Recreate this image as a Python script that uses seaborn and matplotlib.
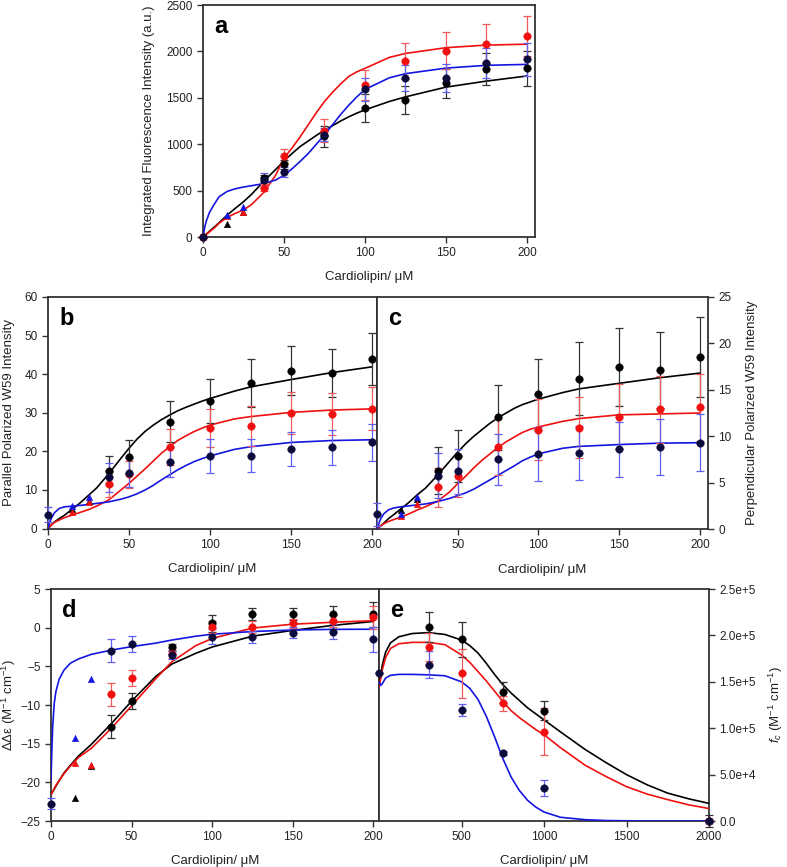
import numpy as np
import pandas as pd
import matplotlib
matplotlib.use("Agg")
import matplotlib.pyplot as plt
import seaborn as sns

# ---------------- data ----------------
# points: 0 + concentrations in uM, triangles at 15 and 25 uM
x_pts = [0, 37.5, 50, 75, 100, 125, 150, 175, 200]
x_pts8 = [37.5, 50, 75, 100, 125, 150, 175, 200]
x_tri = [15, 25]

# fitted curves are drawn through values
x_fit = [0, 1, 2, 4, 7, 10, 15, 20, 25, 30, 37.5, 45, 50, 55, 60, 65, 70, 75,
         80, 85, 90, 95, 100, 115, 125, 150, 175, 200]

# ---- panel a: integrated fluorescence ----
a_black = [0, 633, 784, 1086, 1392, 1475, 1655, 1809, 1817]
a_black_err = [0, 40, 50, 112, 148, 152, 160, 170, 185]
a_red = [0, 532, 874, 1144, 1637, 1896, 2007, 2083, 2165]
a_red_err = [0, 40, 70, 125, 160, 190, 200, 208, 215]
a_blue = [0, 610, 698, 1100, 1590, 1716, 1716, 1874, 1914]
a_blue_err = [0, 80, 55, 70, 120, 140, 150, 165, 175]
a_tri_black = [140, 270]
a_tri_red = [225, 273]
a_tri_blue = [237, 320]
a_fit_black = [0, 15, 30, 62, 108, 155, 237, 310, 380, 460, 600, 730, 820, 900,
               975, 1035, 1095, 1150, 1200, 1250, 1295, 1335, 1370, 1460, 1510,
               1615, 1680, 1735]
a_fit_red = [0, 14, 28, 56, 98, 150, 212, 255, 292, 350, 480, 670, 850, 960,
             1080, 1210, 1340, 1460, 1560, 1650, 1730, 1780, 1817, 1935, 1978,
             2040, 2068, 2078]
a_fit_blue = [0, 100, 170, 265, 355, 435, 492, 520, 538, 553, 575, 615, 665, 735,
              815, 900, 1000, 1100, 1210, 1320, 1420, 1510, 1590, 1715, 1760,
              1820, 1850, 1860]

# ---- panel b: parallel polarized ----
b_black = [15.0, 18.6, 27.7, 33.1, 37.7, 40.9, 40.4, 43.9]
b_black_err = [3.8, 4.4, 5.3, 5.7, 6.2, 6.4, 6.2, 6.7]
b_red = [11.5, 14.0, 21.2, 26.1, 26.6, 29.9, 29.7, 31.0]
b_red_err = [3.3, 3.5, 4.7, 4.9, 5.1, 5.5, 5.4, 5.6]
b_blue = [3.6, 13.3, 14.5, 17.3, 18.9, 18.9, 20.5, 21.0, 22.3]
b_blue_err = [2.0, 3.8, 3.8, 3.9, 4.4, 4.3, 4.4, 4.5, 4.7]
b_tri_black = [5.0, 7.0]
b_tri_red = [4.4, 6.9]
b_tri_blue = [5.9, 8.05]
b_fit_black = [0, 0.4, 0.9, 1.7, 2.6, 3.4, 5.0, 6.7, 8.6, 10.5, 14.2, 18.2, 20.8,
               23.2, 25.2, 26.8, 28.2, 29.4, 30.5, 31.4, 32.2, 33.0, 33.7, 35.6,
               36.7, 38.6, 40.4, 41.9]
b_fit_red = [0, 0.5, 0.9, 1.6, 2.2, 2.8, 3.5, 4.2, 4.9, 5.8, 7.4, 10.0, 11.7,
             13.6, 15.5, 17.5, 19.5, 21.2, 22.8, 24.0, 25.1, 26.0, 26.8, 28.4,
             29.0, 30.1, 30.7, 31.0]
b_fit_blue = [0, 1.5, 2.6, 4.1, 5.2, 5.6, 5.8, 6.0, 6.2, 6.5, 6.9, 7.6, 8.2,
              9.0, 10.0, 11.2, 12.6, 13.9, 15.2, 16.3, 17.3, 18.1, 18.8, 20.5,
              21.2, 22.3, 22.8, 23.0]

# ---- panel c: perpendicular polarized ----
c_black = [6.3, 7.9, 12.05, 14.5, 16.2, 17.5, 17.1, 18.5]
c_black_err = [2.5, 2.8, 3.5, 3.8, 3.9, 4.2, 4.1, 4.3]
c_red = [4.5, 5.7, 8.8, 10.7, 10.9, 12.1, 12.9, 13.1]
c_red_err = [2.1, 2.2, 3.0, 3.3, 3.3, 3.5, 3.6, 3.6]
c_blue = [1.6, 5.75, 6.2, 7.5, 8.05, 8.15, 8.6, 8.8, 9.3]
c_blue_err = [1.25, 2.4, 2.4, 2.75, 2.9, 2.9, 2.95, 3.0, 3.1]
c_tri_black = [2.05, 3.2]
c_tri_red = [1.4, 2.65]
c_tri_blue = [1.6, 3.4]
c_fit_black = [0, 0.15, 0.3, 0.6, 1.1, 1.5, 2.2, 2.9, 3.7, 4.4, 5.8, 7.3, 8.3,
               9.2, 10.0, 10.7, 11.4, 12.0, 12.5, 13.0, 13.4, 13.7, 14.0, 14.7,
               15.1, 15.7, 16.3, 16.8]
c_fit_red = [0, 0.15, 0.3, 0.55, 0.8, 1.0, 1.3, 1.65, 2.05, 2.4, 3.0, 4.0, 4.9,
             5.7, 6.6, 7.4, 8.1, 8.8, 9.4, 9.9, 10.4, 10.75, 11.0, 11.6, 11.9,
             12.3, 12.4, 12.5]
c_fit_blue = [0, 0.5, 1.0, 1.6, 2.05, 2.25, 2.4, 2.5, 2.6, 2.7, 2.95, 3.3, 3.6,
              3.9, 4.3, 4.8, 5.3, 5.8, 6.3, 6.8, 7.35, 7.75, 8.1, 8.7, 8.9, 9.1,
              9.25, 9.3]

# ---- panel d: delta delta epsilon ----
d_black = [-12.8, -9.5, -2.55, 0.55, 1.75, 1.75, 1.75, 1.75]
d_black_err = [1.5, 1.0, 0.5, 1.05, 0.75, 0.75, 1.05, 1.6]
d_red = [-8.6, -6.5, -3.45, 0.1, 0.1, 0.55, 0.85, 1.35]
d_red_err = [1.5, 1.0, 0.5, 0.8, 0.8, 0.6, 0.8, 1.5]
d_blue = [-22.75, -3.0, -2.1, -3.5, -1.15, -1.2, -0.65, -0.5, -1.5]
d_blue_err = [0.75, 1.5, 1.0, 0.5, 1.0, 0.75, 0.75, 1.0, 1.6]
d_tri_black = [-22.0, -17.9]
d_tri_red = [-17.45, -17.8]
d_tri_blue = [-14.3, -6.7]
x_fit_d = [0, 0.5, 1, 2, 3, 5, 8, 12, 17, 25, 37.5, 50, 65, 75, 90, 100, 125,
           150, 175, 200]
d_fit_black = [-21.6, -21.4, -21.25, -20.9, -20.5, -19.8, -18.8, -17.8, -16.6,
               -15.1, -12.4, -9.5, -6.3, -4.7, -3.3, -2.5, -1.1, -0.35, 0.3, 0.8]
d_fit_red = [-21.6, -21.4, -21.2, -20.8, -20.4, -19.8, -18.9, -17.9, -16.8,
             -15.6, -13.0, -10.1, -6.6, -4.4, -2.3, -1.4, -0.05, 0.45, 0.7, 0.9]
d_fit_blue = [-19.7, -16.0, -13.0, -9.8, -8.3, -6.7, -5.5, -4.6, -4.05, -3.45,
              -2.9, -2.45, -2.0, -1.6, -1.1, -0.85, -0.5, -0.3, -0.22, -0.2]

# ---- panel e: f_c ----
x_e = [300, 500, 750, 1000, 2000]
e_black = [2.09e5, 1.957e5, 1.386e5, 1.19e5, 0]
e_black_err = [1.65e4, 1.9e4, 1.1e4, 1.0e4, 6e3]
e_red = [1.877e5, 1.59e5, 1.27e5, 0.964e5, 0]
e_red_err = [1.5e4, 2.65e4, 0.8e4, 2.5e4, 0]
x_e_blue = [0, 300, 500, 750, 1000, 2000]
e_blue = [1.59e5, 1.686e5, 1.20e5, 0.736e5, 0.357e5, 0]
e_blue_err = [0, 1.5e4, 0.65e4, 0.2e4, 0.9e4, 0.2e4]
x_fit_e = [0, 10, 20, 40, 70, 120, 200, 300, 400, 500, 550, 600, 650, 700, 750,
           800, 850, 900, 950, 1000, 1100, 1250, 1375, 1500, 1625, 1750, 1875,
           2000]
e_fit_black = [1.48e5, 1.56e5, 1.68e5, 1.82e5, 1.92e5, 1.985e5, 2.02e5, 2.03e5,
               2.01e5, 1.95e5, 1.89e5, 1.81e5, 1.70e5, 1.58e5, 1.47e5, 1.38e5,
               1.30e5, 1.22e5, 1.155e5, 1.09e5, 0.96e5, 0.77e5, 0.63e5, 0.50e5,
               0.39e5, 0.30e5, 0.24e5, 0.19e5]
e_fit_red = [1.45e5, 1.53e5, 1.63e5, 1.76e5, 1.86e5, 1.91e5, 1.925e5, 1.925e5,
             1.90e5, 1.79e5, 1.71e5, 1.61e5, 1.51e5, 1.40e5, 1.29e5, 1.19e5,
             1.115e5, 1.05e5, 0.985e5, 0.93e5, 0.79e5, 0.60e5, 0.48e5, 0.37e5,
             0.29e5, 0.23e5, 0.175e5, 0.134e5]
e_fit_blue = [1.50e5, 1.46e5, 1.48e5, 1.54e5, 1.57e5, 1.58e5, 1.58e5, 1.575e5,
              1.565e5, 1.50e5, 1.43e5, 1.31e5, 1.13e5, 0.91e5, 0.675e5, 0.476e5,
              0.33e5, 0.224e5, 0.15e5, 0.097e5, 0.04e5, 0.014e5, 0.005e5,
              0.002e5, 0, 0, 0, 0]
e_tick_labels = ["0.0", "5.0e+4", "1.0e+5", "1.5e+5", "2.0e+5", "2.5e+5"]

# ---------------- style ----------------
sns.set_theme(style="ticks")
plt.rcParams["font.family"] = ["Liberation Sans", "DejaVu Sans"]
plt.rcParams["mathtext.fontset"] = "custom"
plt.rcParams["mathtext.rm"] = "Liberation Sans"
plt.rcParams["mathtext.it"] = "Liberation Sans:italic"
plt.rcParams["axes.edgecolor"] = "#333333"
plt.rcParams["axes.linewidth"] = 1.3
plt.rcParams["xtick.color"] = "#333333"
plt.rcParams["ytick.color"] = "#333333"
plt.rcParams["xtick.labelcolor"] = "#222222"
plt.rcParams["ytick.labelcolor"] = "#222222"

BLACK = "#000000"
RED = "#f01010"
BLUE = "#1515e0"
NAVY = "#0c0c3c"
RED_ERR = "#f05a5a"
BLUE_ERR = "#6060f0"
BLACK_ERR = "#333333"

TICK_FS = 8.5
LAB_FS = 9.5

fig = plt.figure(figsize=(7.87, 8.67), dpi=100)
ax_a = fig.add_axes([203 / 787, 1 - 237 / 867, 332 / 787, 232 / 867])
ax_b = fig.add_axes([48 / 787, 1 - 528.5 / 867, 329 / 787, 231.5 / 867])
ax_c = fig.add_axes([377 / 787, 1 - 529 / 867, 331 / 787, 232 / 867])
ax_d = fig.add_axes([51 / 787, 1 - 821 / 867, 328 / 787, 232 / 867])
ax_e = fig.add_axes([379 / 787, 1 - 821 / 867, 330 / 787, 232 / 867])


def curves(ax, xs, yk, yr, yb):
    sns.lineplot(x=xs, y=yk, ax=ax, color=BLACK, linewidth=1.2, estimator=None, zorder=3)
    sns.lineplot(x=xs, y=yr, ax=ax, color=RED, linewidth=1.2, estimator=None, zorder=3)
    sns.lineplot(x=xs, y=yb, ax=ax, color=BLUE, linewidth=1.2, estimator=None, zorder=3)


def points(ax, xs, ys, err, color, ecolor):
    ax.errorbar(xs, ys, yerr=err, fmt="none", ecolor=ecolor, elinewidth=0.9,
                capsize=3, capthick=0.9, zorder=4, clip_on=False)
    sns.scatterplot(x=xs, y=ys, ax=ax, color=color, marker="o", s=30,
                    edgecolor=color, linewidth=0.3, zorder=5, clip_on=False)


def triangles(ax, ys, color):
    sns.scatterplot(x=x_tri, y=ys, ax=ax, color=color, marker="^", s=22,
                    edgecolor=color, linewidth=0.3, zorder=5, clip_on=False)


def frame(ax):
    for s in ax.spines.values():
        s.set_visible(True)
    ax.tick_params(direction="out", length=4, width=1.0, labelsize=TICK_FS)


def letter(ax, s):
    ax.text(0.035, 0.955, s, transform=ax.transAxes, fontsize=17,
            fontweight="bold", va="top", ha="left", color="#000000")


# ---- a ----
curves(ax_a, x_fit, a_fit_black, a_fit_red, a_fit_blue)
points(ax_a, x_pts, a_black, a_black_err, BLACK, BLACK_ERR)
points(ax_a, x_pts, a_red, a_red_err, RED, RED_ERR)
points(ax_a, x_pts, a_blue, a_blue_err, NAVY, BLUE_ERR)
triangles(ax_a, a_tri_black, BLACK)
triangles(ax_a, a_tri_red, RED)
triangles(ax_a, a_tri_blue, BLUE)
ax_a.set_xlim(0, 205)
ax_a.set_ylim(0, 2500)
ax_a.set_xticks([0, 50, 100, 150, 200])
ax_a.set_yticks([0, 500, 1000, 1500, 2000, 2500])
ax_a.set_xlabel("Cardiolipin/ \u03bcM", fontsize=LAB_FS, labelpad=8)
ax_a.set_ylabel("Integrated Fluorescence Intensity (a.u.)", fontsize=LAB_FS)
ax_a.yaxis.set_label_coords(-0.145, 0.5)
frame(ax_a)
letter(ax_a, "a")

# ---- b ----
curves(ax_b, x_fit, b_fit_black, b_fit_red, b_fit_blue)
points(ax_b, x_pts8, b_black, b_black_err, BLACK, BLACK_ERR)
points(ax_b, x_pts8, b_red, b_red_err, RED, RED_ERR)
points(ax_b, x_pts, b_blue, b_blue_err, NAVY, BLUE_ERR)
triangles(ax_b, b_tri_black, BLACK)
triangles(ax_b, b_tri_red, RED)
triangles(ax_b, b_tri_blue, BLUE)
ax_b.set_xlim(0, 203)
ax_b.set_ylim(0, 60)
ax_b.set_xticks([0, 50, 100, 150, 200])
ax_b.set_yticks(range(0, 61, 10))
ax_b.set_xlabel("Cardiolipin/ \u03bcM", fontsize=LAB_FS, labelpad=9)
ax_b.set_ylabel("Parallel Polarized W59 Intensity", fontsize=LAB_FS)
ax_b.yaxis.set_label_coords(-0.1, 0.5)
frame(ax_b)
letter(ax_b, "b")

# ---- c ----
curves(ax_c, x_fit, c_fit_black, c_fit_red, c_fit_blue)
points(ax_c, x_pts8, c_black, c_black_err, BLACK, BLACK_ERR)
points(ax_c, x_pts8, c_red, c_red_err, RED, RED_ERR)
points(ax_c, x_pts, c_blue, c_blue_err, NAVY, BLUE_ERR)
triangles(ax_c, c_tri_black, BLACK)
triangles(ax_c, c_tri_red, RED)
triangles(ax_c, c_tri_blue, BLUE)
ax_c.set_xlim(0, 205)
ax_c.set_ylim(0, 25)
ax_c.set_xticks([50, 100, 150, 200])
ax_c.set_yticks(range(0, 26, 5))
ax_c.yaxis.tick_right()
ax_c.yaxis.set_label_position("right")
ax_c.set_xlabel("Cardiolipin/ \u03bcM", fontsize=LAB_FS, labelpad=9)
ax_c.set_ylabel("Perpendicular Polarized W59 Intensity", fontsize=LAB_FS)
ax_c.yaxis.set_label_coords(1.115, 0.5)
frame(ax_c)
letter(ax_c, "c")

# ---- d ----
curves(ax_d, x_fit_d, d_fit_black, d_fit_red, d_fit_blue)
points(ax_d, x_pts8, d_black, d_black_err, BLACK, BLACK_ERR)
points(ax_d, x_pts8, d_red, d_red_err, RED, RED_ERR)
points(ax_d, x_pts, d_blue, d_blue_err, NAVY, BLUE_ERR)
triangles(ax_d, d_tri_black, BLACK)
triangles(ax_d, d_tri_red, RED)
triangles(ax_d, d_tri_blue, BLUE)
ax_d.set_xlim(0, 203.5)
ax_d.set_ylim(-25, 5)
ax_d.set_xticks([0, 50, 100, 150, 200])
ax_d.set_yticks(range(-25, 6, 5))
ax_d.set_xlabel("Cardiolipin/ \u03bcM", fontsize=LAB_FS, labelpad=8)
ax_d.set_ylabel("\u0394\u0394\u03b5 (M$^{-1}$ cm$^{-1}$)", fontsize=LAB_FS)
ax_d.yaxis.set_label_coords(-0.1, 0.5)
frame(ax_d)
letter(ax_d, "d")

# ---- e ----
curves(ax_e, x_fit_e, e_fit_black, e_fit_red, e_fit_blue)
points(ax_e, x_e, e_black, e_black_err, BLACK, BLACK_ERR)
points(ax_e, x_e, e_red, e_red_err, RED, RED_ERR)
points(ax_e, x_e_blue, e_blue, e_blue_err, NAVY, BLUE_ERR)
ax_e.set_xlim(0, 2000)
ax_e.set_ylim(0, 2.5e5)
ax_e.set_xticks([500, 1000, 1500, 2000])
ax_e.set_yticks([0, 5e4, 1e5, 1.5e5, 2e5, 2.5e5])
ax_e.set_yticklabels(e_tick_labels)
ax_e.yaxis.tick_right()
ax_e.yaxis.set_label_position("right")
ax_e.set_xlabel("Cardiolipin/ \u03bcM", fontsize=LAB_FS, labelpad=8)
ax_e.set_ylabel("$f_c$ (M$^{-1}$ cm$^{-1}$)", fontsize=LAB_FS)
ax_e.yaxis.set_label_coords(1.175, 0.5)
frame(ax_e)
letter(ax_e, "e")

for ax in [ax_a, ax_b, ax_c, ax_d, ax_e]:
    ax.xaxis.label.set_color("#222222")
    ax.yaxis.label.set_color("#222222")

fig.savefig("out.png", dpi=100)
